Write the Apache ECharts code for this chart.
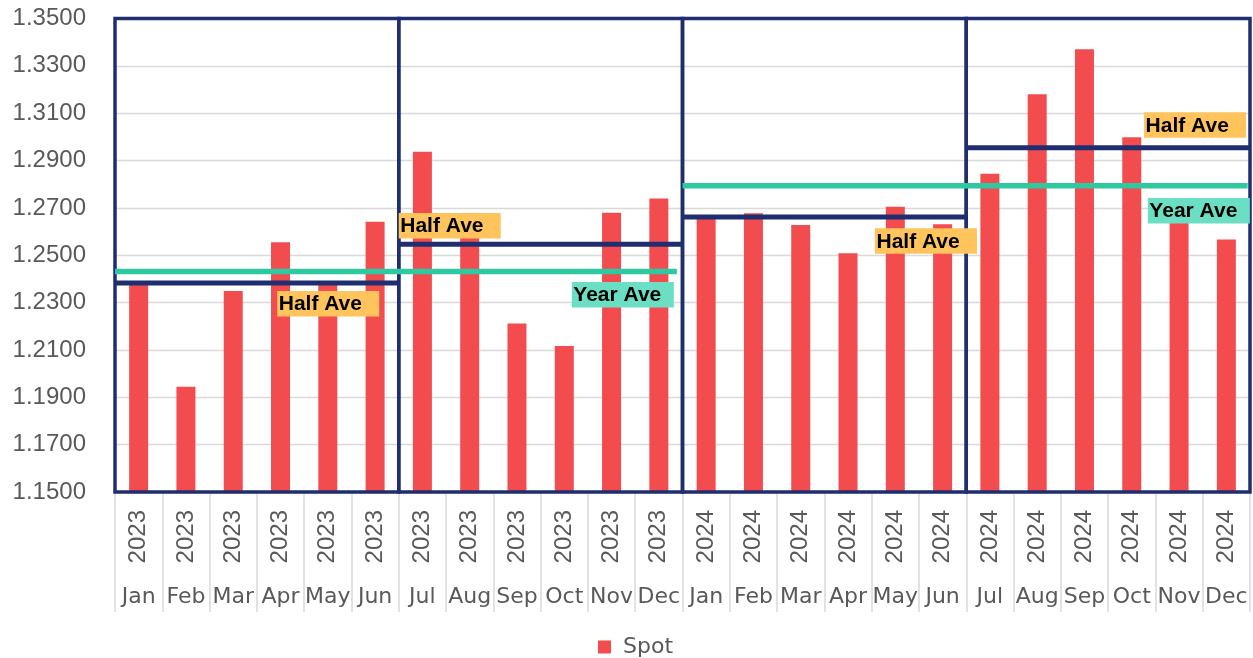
<!DOCTYPE html>
<html><head><meta charset="utf-8">
<script src="https://cdn.jsdelivr.net/npm/echarts@6/dist/echarts.min.js"></script>
<style>html,body{margin:0;padding:0;background:#fff}#c{width:1253px;height:658px}</style>
</head><body><div id="c"></div>
<script>
const months = ['Jan','Feb','Mar','Apr','May','Jun','Jul','Aug','Sep','Oct','Nov','Dec',
                'Jan','Feb','Mar','Apr','May','Jun','Jul','Aug','Sep','Oct','Nov','Dec'];
const years = ['2023','2023','2023','2023','2023','2023','2023','2023','2023','2023','2023','2023',
               '2024','2024','2024','2024','2024','2024','2024','2024','2024','2024','2024','2024'];
const spot = [1.2380,1.1945,1.2349,1.2555,1.2385,1.2642,
              1.2937,1.2590,1.2212,1.2117,1.2680,1.2740,
              1.2665,1.2677,1.2628,1.2508,1.2705,1.2631,
              1.2844,1.3180,1.3370,1.2998,1.2680,1.2567];
const yMin = 1.15, yMax = 1.35, yStep = 0.02;
const halfStart = [0,6,12,18];
const halfEnd = [6,12,18,24];
const halfAve = [1.2383,1.2546,1.2662,1.2954];
const yearStart = [0,12];
const yearEnd = [11.88,23.95];
const yearAve = [1.2431,1.2794];
const labelTexts = ['Half Ave','Half Ave','Year Ave','Half Ave','Half Ave','Year Ave'];
const labelKinds = ['half','half','year','half','half','year'];
const labelX = [3.43,6.0,9.66,16.07,21.76,21.84];
const labelY = [1.2349,1.2678,1.2387,1.2614,1.3104,1.2742];

const NAVY = '#1F2E6E', GREEN = '#2EC9A1', RED = '#F24C4F', ORANGE = '#FFC55C', TEAL = '#6BDFC4', GREY = '#595959';
const FONT = 'Liberation Sans';
const WIDE = 'DejaVu Sans';

const series = [];
series.push({
  type:'bar', name:'Spot', data:spot, barWidth:19, xAxisIndex:0, yAxisIndex:0, z:2,
  itemStyle:{color:RED}, animation:false
});
series.push({
  type:'custom', xAxisIndex:2, yAxisIndex:0, z:3, silent:true, animation:false, clip:false,
  data: halfStart.map((s,i)=>[s, halfEnd[i]]),
  renderItem(params, api){
    const a = api.coord([api.value(0), yMax]);
    const b = api.coord([api.value(1), yMin]);
    return {type:'rect', shape:{x:a[0], y:a[1], width:b[0]-a[0], height:b[1]-a[1]},
            style:{fill:'none', stroke:NAVY, lineWidth:3.5}};
  }
});
yearAve.forEach((v,i)=>{
  series.push({type:'line', xAxisIndex:2, yAxisIndex:0, z:4, silent:true, animation:false,
    data:[[yearStart[i], v],[yearEnd[i], v]], symbol:'none', lineStyle:{color:GREEN, width:5.5}});
});
halfAve.forEach((v,i)=>{
  series.push({type:'line', xAxisIndex:2, yAxisIndex:0, z:5, silent:true, animation:false,
    data:[[halfStart[i], v],[halfEnd[i], v]], symbol:'none', lineStyle:{color:NAVY, width:5}});
});
series.push({
  type:'custom', xAxisIndex:2, yAxisIndex:0, z:6, silent:true, animation:false, clip:false,
  data: labelX.map((x,i)=>[x, labelY[i]]),
  renderItem(params, api){
    const p = api.coord([api.value(0), api.value(1)]);
    const i = params.dataIndex;
    return {type:'group', x:p[0], y:p[1], children:[
      {type:'rect', shape:{x:0, y:0, width:102, height:25.5},
       style:{fill: labelKinds[i]==='half' ? ORANGE : TEAL}},
      {type:'text', style:{x:1.5, y:13.5, text:labelTexts[i], fill:'#000',
        fontSize:21, fontWeight:'bold', fontFamily:FONT, verticalAlign:'middle', align:'left'}}
    ]};
  }
});

const chart = echarts.init(document.getElementById('c'), null, {renderer:'canvas'});
chart.setOption({
  backgroundColor:'#fff',
  animation:false,
  grid:{left:115, right:3, top:18.5, bottom:166},
  legend:{data:['Spot'], left:593, top:631, icon:'rect', itemWidth:13, itemHeight:13,
    textStyle:{fontSize:22, color:GREY, fontFamily:WIDE, padding:[0,0,0,7]}},
  xAxis:[
    {type:'category', data:years, position:'bottom', axisLine:{show:false},
     axisTick:{show:true, length:120, interval:0, lineStyle:{color:'#D9D9D9', width:1.5}},
     axisLabel:{rotate:90, margin:18, fontSize:24, color:GREY, fontFamily:FONT, interval:0},
     splitLine:{show:false}},
    {type:'category', data:months, position:'bottom', axisLine:{show:false}, axisTick:{show:false},
     axisLabel:{margin:94, fontSize:22, color:GREY, fontFamily:WIDE, interval:0}},
    {type:'value', min:0, max:24, show:false}
  ],
  yAxis:{type:'value', min:yMin, max:yMax, interval:yStep,
    axisLabel:{formatter:v=>v.toFixed(4), fontSize:24, color:GREY, fontFamily:FONT, margin:29},
    splitLine:{lineStyle:{color:'#D9D9D9', width:1.3}}, axisLine:{show:false}, axisTick:{show:false}},
  series
});
</script></body></html>
